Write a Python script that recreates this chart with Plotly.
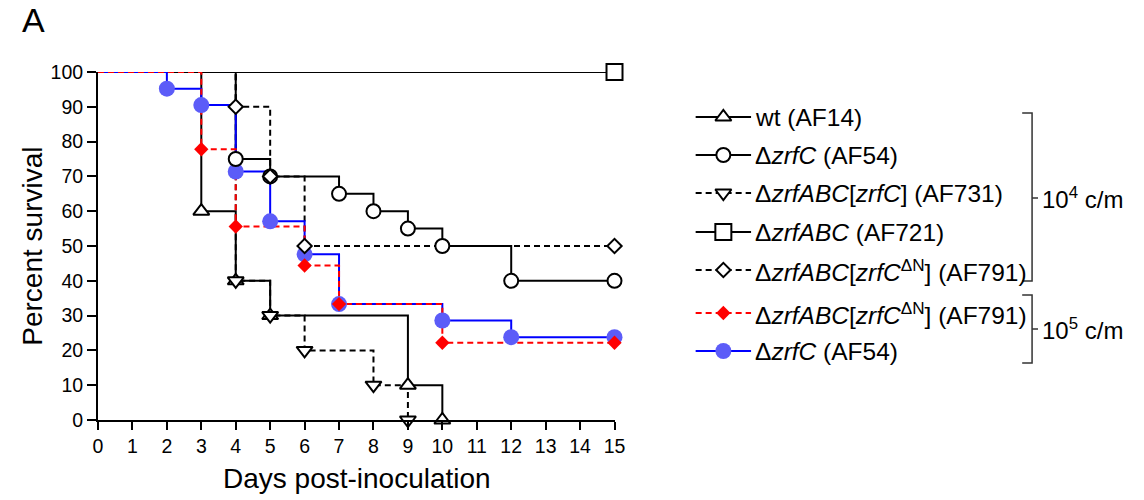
import plotly.graph_objects as go

# ---------------- data ----------------
wt_days = [0, 3, 4, 5, 9, 10]
wt_surv = [100, 60, 40, 30, 10, 0]

zrfC4_days = [0, 4, 5, 7, 8, 9, 10, 12, 15]
zrfC4_surv = [100, 75, 70, 65, 60, 55, 50, 40, 40]

comp_days = [0, 4, 5, 6, 8, 9]
comp_surv = [100, 40, 30, 20, 10, 0]

abc_days = [0, 15]
abc_surv = [100, 100]

dN4_days = [0, 4, 5, 6, 15]
dN4_surv = [100, 90, 70, 50, 50]

dN5_days = [0, 3, 4, 6, 7, 10, 15]
dN5_surv = [100, 77.8, 55.6, 44.4, 33.3, 22.2, 22.2]

zrfC5_days = [0, 2, 3, 4, 5, 6, 7, 10, 12, 15]
zrfC5_surv = [100, 95.2, 90.5, 71.4, 57.1, 47.6, 33.3, 28.6, 23.8, 23.8]

names = [
    "wt (AF14)",
    "Δ<i>zrfC</i> (AF54)",
    "Δ<i>zrfABC</i>[<i>zrfC</i>] (AF731)",
    "Δ<i>zrfABC</i> (AF721)",
    "Δ<i>zrfABC</i>[<i>zrfC</i><sup>ΔN</sup>] (AF791)",
    "Δ<i>zrfABC</i>[<i>zrfC</i><sup>ΔN</sup>] (AF791)",
    "Δ<i>zrfC</i> (AF54)",
]
group_labels = ["10<sup>4</sup> c/m", "10<sup>5</sup> c/m"]
x_ticks = list(range(0, 16))
y_ticks = list(range(0, 101, 10))

# ---------------- styles ----------------
FONT = "Arial, Liberation Sans, sans-serif"
W, H = 1144, 500
L, R, T, B = 98, 0, 72, 80
PW = W - L - R
PH = H - T - B
DASH = "6px,4px"

styles = [
    dict(color="black", dash="solid", symbol="triangle-up", size=14, fill="white", lw=2),
    dict(color="black", dash="solid", symbol="circle", size=14, fill="white", lw=2),
    dict(color="black", dash=DASH, symbol="triangle-down", size=14, fill="white", lw=2),
    dict(color="black", dash="solid", symbol="square", size=16, fill="white", lw=2),
    dict(color="black", dash=DASH, symbol="diamond", size=11, fill="white", lw=2),
    dict(color="#ff0000", dash=DASH, symbol="diamond", size=11, fill="#ff0000", lw=0),
    dict(color="#0000ff", dash="solid", symbol="circle", size=16, fill="#5c5cf8", lw=0),
]
series = [
    (wt_days, wt_surv), (zrfC4_days, zrfC4_surv), (comp_days, comp_surv),
    (abc_days, abc_surv), (dN4_days, dN4_surv), (dN5_days, dN5_surv),
    (zrfC5_days, zrfC5_surv),
]

fig = go.Figure()

line_order = [0, 1, 2, 3, 4, 6, 5]
for i in line_order:
    d, s = series[i]
    st = styles[i]
    fig.add_trace(go.Scatter(
        x=d, y=s, mode="lines", line=dict(color=st["color"], width=2, dash=st["dash"], shape="hv"),
        showlegend=False, hoverinfo="skip", cliponaxis=False))

marker_order = [6, 5, 0, 1, 2, 3, 4]
for i in marker_order:
    d, s = series[i]
    st = styles[i]
    fig.add_trace(go.Scatter(
        x=d[1:], y=s[1:], mode="markers",
        marker=dict(symbol=st["symbol"], size=st["size"], color=st["fill"],
                    line=dict(color=st["color"], width=st["lw"])),
        showlegend=False, cliponaxis=False))

# ---------------- manual legend (pixel coordinates on x2/y2) ----------------
row_y = [117, 155, 193, 232, 270, 313, 351]
sym_x0, sym_x1, sym_xm, text_x = 702, 758, 730, 760
for i, yy in enumerate(row_y):
    st = styles[i]
    fig.add_trace(go.Scatter(
        x=[sym_x0, sym_x1], y=[yy, yy], mode="lines", xaxis="x2", yaxis="y2",
        line=dict(color=st["color"], width=2, dash=st["dash"]),
        showlegend=False, hoverinfo="skip", cliponaxis=False))
    fig.add_trace(go.Scatter(
        x=[sym_xm], y=[yy], mode="markers", xaxis="x2", yaxis="y2",
        marker=dict(symbol=st["symbol"], size=st["size"], color=st["fill"],
                    line=dict(color=st["color"], width=st["lw"])),
        showlegend=False, hoverinfo="skip", cliponaxis=False))

annotations = []
for i, yy in enumerate(row_y):
    annotations.append(dict(
        x=text_x, y=yy, xref="x2", yref="y2", text=names[i], showarrow=False,
        xanchor="left", yanchor="middle", font=dict(family=FONT, size=24.5, color="black")))

# brackets
shapes = []
brackets = [(113, 281, 198), (295, 363, 329)]
for (y0, y1, ym), lab in zip(brackets, group_labels):
    shapes.append(dict(type="path", xref="x2", yref="y2",
                       path=f"M 1032 {y0} L 1042 {y0} L 1042 {y1} L 1032 {y1}",
                       line=dict(color="#333333", width=1.5)))
    shapes.append(dict(type="line", xref="x2", yref="y2", x0=1042, x1=1048, y0=ym, y1=ym,
                       line=dict(color="#333333", width=1.5)))
    annotations.append(dict(
        x=1050, y=ym, xref="x2", yref="y2", text=lab, showarrow=False,
        xanchor="left", yanchor="middle", font=dict(family=FONT, size=24, color="black")))


def px_x(p):
    return (p - L) / PW


def px_y(p):
    return (H - B - p) / PH


annotations.append(dict(x=px_x(31), y=px_y(246), xref="paper", yref="paper",
                        text="Percent survival", textangle=-90, showarrow=False,
                        xanchor="center", yanchor="middle",
                        font=dict(family=FONT, size=28, color="black")))
annotations.append(dict(x=px_x(360), y=px_y(478), xref="paper", yref="paper",
                        text="Days post-inoculation", showarrow=False,
                        xanchor="center", yanchor="middle",
                        font=dict(family=FONT, size=28, color="black")))
annotations.append(dict(x=px_x(33), y=px_y(20), xref="paper", yref="paper",
                        text="A", showarrow=False, xanchor="center", yanchor="middle",
                        font=dict(family=FONT, size=34, color="black")))

axis_common = dict(showline=True, linecolor="black", linewidth=2, ticks="outside",
                   tickwidth=2, tickcolor="black", showgrid=False, zeroline=False,
                   tickfont=dict(family=FONT, size=19.5, color="black"))

fig.update_layout(
    width=W, height=H,
    margin=dict(l=L, r=R, t=T, b=B, pad=0),
    paper_bgcolor="white", plot_bgcolor="rgba(0,0,0,0)",
    showlegend=False,
    font=dict(family=FONT, color="black"),
    xaxis=dict(domain=[0, (620 - L) / PW], range=[0, 15], tickvals=x_ticks, anchor="y",
               ticklen=8, **axis_common),
    yaxis=dict(domain=[0, 1], range=[0, 100], tickvals=y_ticks, anchor="x",
               ticklen=9, **axis_common),
    xaxis2=dict(domain=[0, 1], range=[L, W], visible=False, anchor="y2", fixedrange=True),
    yaxis2=dict(domain=[0, 1], range=[H - B, T], visible=False, anchor="x2", fixedrange=True),
    annotations=annotations,
    shapes=shapes,
)

fig.write_html(
    "out.html",
    config={"displayModeBar": False},
    post_script=(
        "document.documentElement.style.margin='0';"
        "document.documentElement.style.overflow='hidden';"
        "document.body.style.margin='0';"
        "document.body.style.overflow='hidden';"
    ),
)
